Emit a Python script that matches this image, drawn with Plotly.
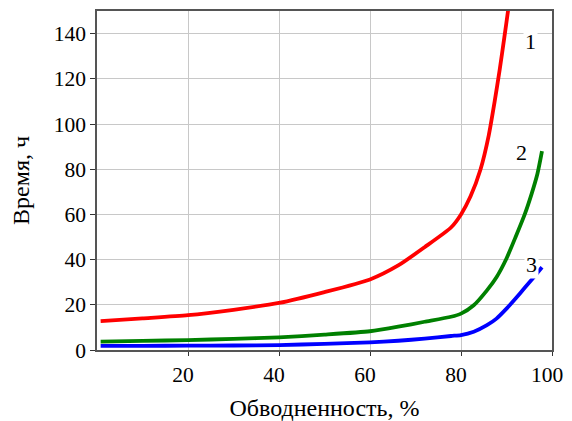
import plotly.graph_objects as go

# Curve 1 (red)
x1 = [0.8, 10, 20, 30, 40, 50, 60, 66.2, 72, 77.8, 80, 82.1, 84.3, 86.1, 87.4, 88.5, 89.5, 90.4, 91.0]
y1 = [12.8, 14.0, 15.4, 17.8, 20.8, 25.6, 31.2, 37.4, 45.5, 54.2, 60.0, 68.0, 80.0, 95.0, 110.0, 124.0, 138.0, 151.0, 160.0]
# Curve 2 (green)
x2 = [0.8, 10, 20, 30, 40, 50, 60, 66.2, 72, 77.8, 80, 82.8, 85.7, 87.8, 90.0, 92.0, 94.0, 95.5, 96.8, 97.8]
y2 = [3.7, 4.0, 4.4, 4.9, 5.6, 6.8, 8.3, 10.3, 12.5, 14.7, 16.1, 19.8, 26.4, 32.2, 40.5, 50.0, 60.0, 69.0, 78.0, 88.0]
# Curve 3 (blue)
x3 = [0.8, 10, 20, 30, 40, 50, 60, 66.2, 72, 77.8, 80, 82.8, 85.7, 87.8, 90.0, 92.0, 94.0, 96.0, 97.8]
y3 = [1.8, 1.85, 1.9, 2.0, 2.2, 2.7, 3.4, 4.1, 5.0, 6.2, 6.6, 8.1, 11.0, 13.9, 18.3, 22.8, 27.5, 32.2, 36.6]

colors = ["#ff0000", "#008000", "#0000ff"]
curve_labels = ["1", "2", "3"]
label_x = [95.2, 93.4, 95.6]
label_y = [136.5, 87.5, 38.0]

x_ticks = [20, 40, 60, 80, 100]
y_ticks = [0, 20, 40, 60, 80, 100, 120, 140]

font_family = "Times New Roman, Liberation Serif, serif"

fig = go.Figure()
for xs, ys, c in zip([x1, x2, x3], [y1, y2, y3], colors):
    fig.add_trace(go.Scatter(x=xs, y=ys, mode="lines",
                             line=dict(color=c, width=3.8, shape="spline", smoothing=0.6),
                             showlegend=False, hoverinfo="skip"))

for t, lx, ly in zip(curve_labels, label_x, label_y):
    fig.add_annotation(x=lx, y=ly, text=t, showarrow=False, bgcolor="white",
                       font=dict(family=font_family, size=22, color="black"),
                       borderpad=1)

# page body adds an 8px offset at top/left; compensate in size and margins
fig.update_layout(
    width=564, height=413,
    margin=dict(l=89, r=20, t=1, b=71),
    paper_bgcolor="white", plot_bgcolor="white",
    font=dict(family=font_family, size=21, color="black"),
)
fig.update_xaxes(
    range=[0, 100], tickvals=x_ticks, ticks="outside", ticklen=4, tickcolor="#333",
    showgrid=True, gridcolor="#c8c8c8", gridwidth=1, ticklabelshift=-5,
    showline=True, linecolor="#555", linewidth=1.5, mirror=True, zeroline=False,
    title=dict(text="Обводненность, %", font=dict(family=font_family, size=24), standoff=16),
    tickfont=dict(family=font_family, size=21.5),
)
fig.update_yaxes(
    range=[0, 150], tickvals=y_ticks, ticks="outside", ticklen=5, tickcolor="#333",
    showgrid=True, gridcolor="#c8c8c8", gridwidth=1,
    showline=True, linecolor="#555", linewidth=1.5, mirror=True, zeroline=False,
    title=dict(text="Время, ч", font=dict(family=font_family, size=24), standoff=25),
    tickfont=dict(family=font_family, size=21.5),
)

fig.write_html("out.html")
